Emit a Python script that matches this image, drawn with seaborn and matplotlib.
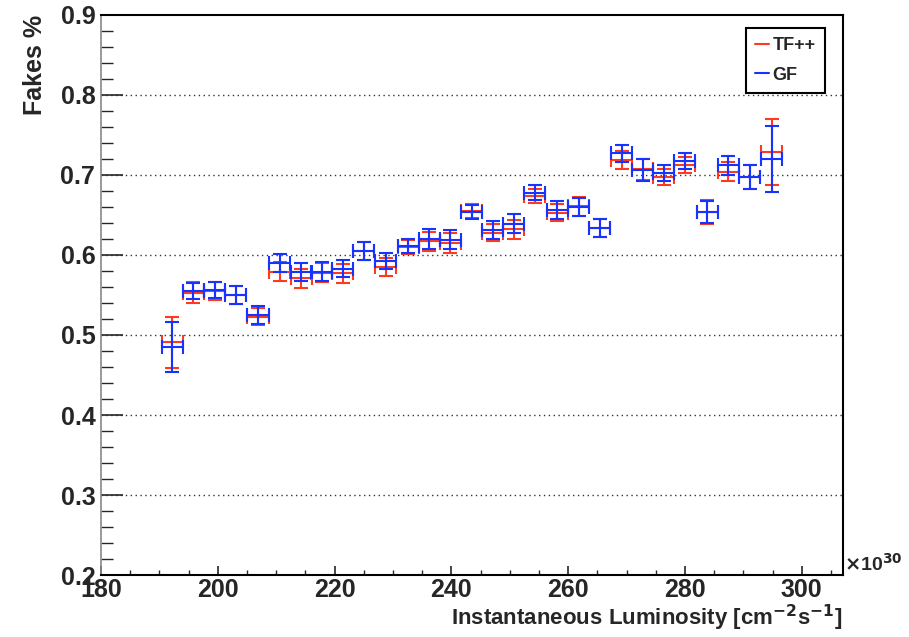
import matplotlib
matplotlib.use("Agg")
import matplotlib.pyplot as plt
import seaborn as sns
from matplotlib.lines import Line2D
from matplotlib.ticker import MultipleLocator

# luminosity bin centres (x 10^30) and half bin width
lumi = [192.2, 195.8, 199.5, 203.1, 206.9, 210.6, 214.3, 217.8, 221.4, 225.0,
        228.8, 232.6, 236.2, 239.8, 243.5, 247.1, 250.7, 254.3, 258.1, 261.8,
        265.4, 269.2, 272.8, 276.4, 280.0, 283.8, 287.4, 291.1, 294.9]
lumi_halfwidth = [1.8] * len(lumi)

# TF++ fake rate (%) and errors
tf_vals = [0.491, 0.553, 0.555, 0.550, 0.523, 0.579, 0.571, 0.578, 0.577, 0.605,
           0.585, 0.610, 0.617, 0.615, 0.655, 0.628, 0.632, 0.674, 0.653, 0.661,
           0.634, 0.719, 0.707, 0.698, 0.713, 0.654, 0.704, 0.698, 0.729]
tf_err = [0.032, 0.013, 0.011, 0.011, 0.011, 0.012, 0.012, 0.012, 0.012, 0.011,
          0.011, 0.009, 0.012, 0.012, 0.009, 0.011, 0.012, 0.009, 0.011, 0.012,
          0.011, 0.011, 0.013, 0.010, 0.010, 0.015, 0.012, 0.015, 0.041]

# GF fake rate (%) and errors
gf_vals = [0.485, 0.555, 0.556, 0.550, 0.525, 0.590, 0.579, 0.579, 0.583, 0.605,
           0.592, 0.611, 0.620, 0.619, 0.654, 0.631, 0.639, 0.678, 0.656, 0.660,
           0.634, 0.727, 0.706, 0.703, 0.718, 0.654, 0.712, 0.697, 0.720]
gf_err = [0.031, 0.010, 0.010, 0.011, 0.011, 0.011, 0.011, 0.012, 0.011, 0.011,
          0.010, 0.009, 0.012, 0.012, 0.009, 0.011, 0.012, 0.009, 0.011, 0.011,
          0.011, 0.011, 0.014, 0.010, 0.010, 0.014, 0.012, 0.015, 0.041]

tf_color = "#ff3a1c"
gf_color = "#1633ff"


def main():
    sns.set_style("white")
    plt.rcParams["font.family"] = ["Liberation Sans", "DejaVu Sans"]
    plt.rcParams["font.weight"] = "bold"

    fig = plt.figure(figsize=(9.09, 6.37), dpi=100)
    ax = fig.add_axes([0.111, 0.0973, 0.816, 0.8792])

    ax.errorbar(lumi, tf_vals, xerr=lumi_halfwidth, yerr=tf_err, fmt="none",
                ecolor=tf_color, elinewidth=1.5, capsize=5, capthick=1.5)
    ax.errorbar(lumi, gf_vals, xerr=lumi_halfwidth, yerr=gf_err, fmt="none",
                ecolor=gf_color, elinewidth=1.5, capsize=5, capthick=1.5)

    ax.set_xlim(180, 307)
    ax.set_ylim(0.2, 0.9)

    ax.xaxis.set_major_locator(MultipleLocator(20))
    ax.xaxis.set_minor_locator(MultipleLocator(5))
    ax.yaxis.set_major_locator(MultipleLocator(0.1))
    ax.yaxis.set_minor_locator(MultipleLocator(0.02))
    ax.yaxis.set_major_formatter(plt.FuncFormatter(lambda v, p: f"{v:.1f}"))

    ax.tick_params(axis="x", which="major", direction="in", length=6.5, width=1.2,
                   labelsize=18, pad=2, bottom=True, top=False)
    ax.tick_params(axis="x", which="minor", direction="in", length=3.6, width=1.0,
                   bottom=True, top=False)
    ax.tick_params(axis="y", which="major", direction="in", length=15.5, width=1.2,
                   labelsize=18, pad=4, left=True, right=False)
    ax.tick_params(axis="y", which="minor", direction="in", length=8.5, width=1.0,
                   left=True, right=False)
    for lab in ax.get_xticklabels() + ax.get_yticklabels():
        lab.set_fontweight("bold")

    for sp in ["top", "right", "bottom"]:
        ax.spines[sp].set_color("black")
        ax.spines[sp].set_linewidth(1.5)
    ax.spines["left"].set_color("#888888")
    ax.spines["left"].set_linewidth(1.2)

    for y in [0.3, 0.4, 0.5, 0.6, 0.7, 0.8]:
        ax.axhline(y, color="#333333", linewidth=1.0, linestyle=(0, (1, 2.5)), zorder=0)

    ax.set_xlabel(r"Instantaneous Luminosity [cm$^{\mathbf{-2}}$s$^{\mathbf{-1}}$]",
                  fontsize=16, fontweight="bold", loc="right", labelpad=1)
    ax.set_ylabel("Fakes %", fontsize=18, fontweight="bold", loc="top", labelpad=10)

    ax.text(1.002, 0.0, r"$\times$10$^{30}$", transform=ax.transAxes,
            fontsize=14, fontweight="bold", ha="left", va="bottom")

    handles = [Line2D([0], [0], color=tf_color, lw=1.5),
               Line2D([0], [0], color=gf_color, lw=1.5)]
    leg = ax.legend(handles, ["TF++", "GF"], loc="upper right",
                    bbox_to_anchor=(0.976, 0.977), borderaxespad=0, fancybox=False,
                    framealpha=1, edgecolor="black", handlelength=0.8,
                    handletextpad=0.2, borderpad=0.5, labelspacing=0.7,
                    prop={"weight": "bold", "size": 13})
    leg.get_frame().set_linewidth(1.5)

    fig.savefig("out.png", dpi=100)


if __name__ == "__main__":
    main()
